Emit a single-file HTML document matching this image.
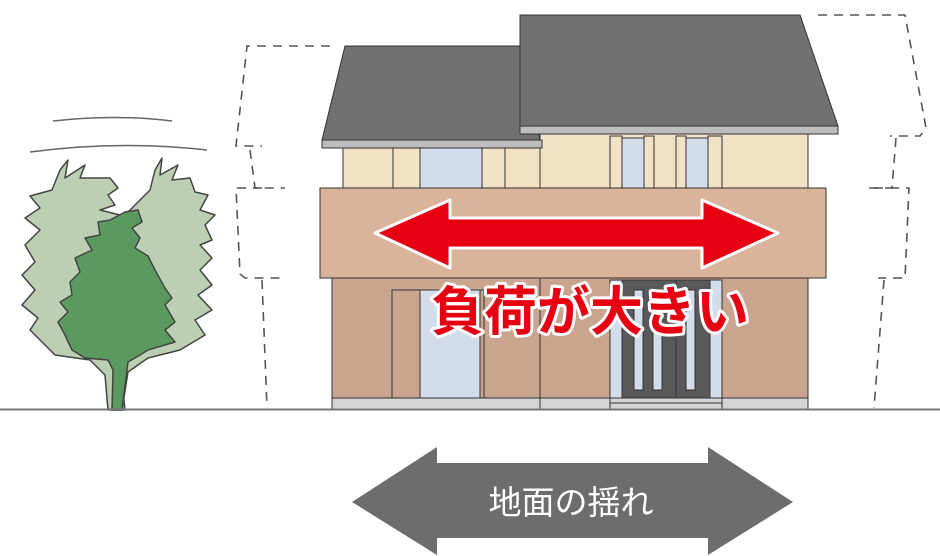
<!DOCTYPE html>
<html><head><meta charset="utf-8"><style>
html,body{margin:0;padding:0;background:#fff;}
svg{display:block}
</style></head><body>
<svg width="940" height="556" viewBox="0 0 940 556" xmlns="http://www.w3.org/2000/svg">
<g fill="none" stroke="#555" stroke-width="1.6" stroke-dasharray="9,7">
<polyline points="330,46 247,46 236,146 262,146"/>
<polyline points="250,150 255,188 285,188"/>
<polyline points="262,188 236,188 240,274 245,278 285,278"/>
<polyline points="262,280 267,408"/>
<polyline points="818,15 905,15 926,128 920,136 890,136"/>
<polyline points="896,138 892,188 868,188"/>
<polyline points="874,188 909,188 905,278 878,278"/>
<polyline points="884,280 874,408"/>
</g>
<g stroke="#444" stroke-width="1.5" stroke-linejoin="round">
<path fill="#bccfb3" d="M60,170 L68,160 L65,178 L85,165 L80,178 L110,178 L118,188 L108,195 L115,205 L100,210 L120,215 L128,232 L118,248 L140,260 L155,275 L150,290 L160,300 L148,315 L158,330 L130,340 L118,345 L125,410 L108,410 L105,375 L90,360 L55,355 L40,340 L30,330 L38,318 L22,305 L35,290 L22,275 L35,262 L25,245 L40,230 L25,218 L40,208 L30,196 L52,190 Z"/>
<path fill="#bccfb3" d="M155,170 L162,158 L160,175 L178,165 L172,180 L190,178 L195,192 L208,195 L200,210 L215,215 L205,225 L212,240 L200,245 L212,258 L200,270 L212,285 L198,295 L212,310 L195,320 L205,335 L180,350 L148,358 L128,372 L122,410 L112,410 L115,360 L100,350 L95,320 L100,290 L110,265 L118,240 L125,215 L140,200 L150,190 Z"/>
<path fill="#5a9a5e" d="M125,212 L138,210 L142,222 L132,228 L140,238 L135,248 L148,256 L155,270 L165,288 L172,298 L165,305 L175,322 L165,330 L175,342 L148,350 L140,355 L128,362 L122,410 L112,410 L113,370 L108,360 L85,358 L72,350 L65,335 L58,322 L68,312 L60,302 L72,295 L70,282 L80,272 L75,258 L92,250 L85,238 L100,235 L98,222 L110,220 Z"/>
</g>
<path d="M30,152 Q120,140 207,150" fill="none" stroke="#666" stroke-width="1.5"/>
<path d="M53,121 Q115,114 172,121" fill="none" stroke="#666" stroke-width="1.5"/>
<g stroke="#333" stroke-width="1">
<rect x="332" y="278" width="476" height="122" fill="#c9a48e"/>
<rect x="332" y="398" width="476" height="11" fill="#d4d4d4"/>
<rect x="343" y="146" width="200" height="42" fill="#f1e1c5"/>
<rect x="540" y="134" width="268" height="54" fill="#f1e1c5"/>
<rect x="393" y="148" width="27" height="40" fill="#f1e1c5"/>
<rect x="420" y="148" width="62" height="40" fill="#d2dcea"/>
<rect x="482" y="148" width="23" height="40" fill="#f1e1c5"/>
<rect x="610" y="136" width="12" height="52" fill="#f1e1c5"/>
<rect x="622" y="138" width="22" height="50" fill="#d2dcea"/>
<rect x="644" y="136" width="10" height="52" fill="#f1e1c5"/>
<rect x="676" y="136" width="10" height="52" fill="#f1e1c5"/>
<rect x="686" y="138" width="22" height="50" fill="#d2dcea"/>
<rect x="708" y="136" width="14" height="52" fill="#f1e1c5"/>
<polygon points="345,46 520,46 540,140 322,140" fill="#717173"/>
<rect x="322" y="140" width="220" height="8" fill="#bdbdbd"/>
<polygon points="520,15 800,15 838,126 520,126" fill="#717173"/>
<rect x="520" y="126" width="318" height="8" fill="#bdbdbd"/>
<rect x="320" y="188" width="506" height="90" fill="#d9b49a"/>
<rect x="392" y="290" width="92" height="108" fill="#c9a48e"/>
<rect x="420" y="290" width="60" height="108" fill="#d2dcea"/>
<line x1="540" y1="278" x2="540" y2="409"/>
<rect x="610" y="280" width="112" height="118" fill="#d2dcea"/>
<rect x="622" y="280" width="88" height="118" fill="#59595b"/>
<rect x="634" y="290" width="9" height="100" fill="#d2dcea"/>
<rect x="653" y="290" width="9" height="100" fill="#d2dcea"/>
<rect x="686" y="290" width="9" height="100" fill="#d2dcea"/>
<line x1="676" y1="280" x2="676" y2="398"/>
<rect x="610" y="398" width="112" height="5" fill="#d4d4d4"/>
<rect x="610" y="403" width="112" height="6" fill="#d4d4d4"/>
</g>
<line x1="0" y1="409.5" x2="940" y2="409.5" stroke="#777" stroke-width="2"/>
<polygon points="375,233 450,200 450,218 702,218 702,200 778,233 702,268 702,248 450,248 450,268" fill="#e60012" stroke="#fff" stroke-width="3" stroke-linejoin="round"/>
<text x="590" y="330" text-anchor="middle" font-family="'Liberation Sans','Noto Sans CJK JP',sans-serif" font-weight="bold" font-size="53" fill="#e60012" stroke="#fff" stroke-width="6" paint-order="stroke" stroke-linejoin="round">負荷が大きい</text>
<polygon points="352,502 437,447 437,463 708,463 708,447 793,502 708,555 708,538 437,538 437,555" fill="#6d6d6f"/>
<text x="571" y="514" text-anchor="middle" font-family="'Liberation Sans','Noto Sans CJK JP',sans-serif" font-size="33" fill="#fff">地面の揺れ</text>
</svg>
</body></html>
